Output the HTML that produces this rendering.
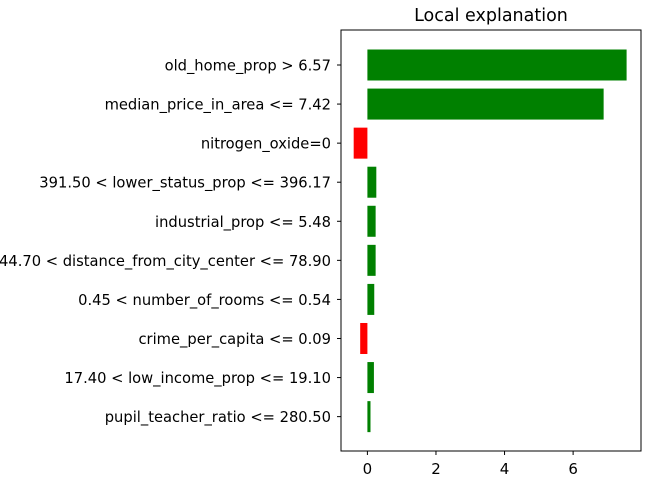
<!DOCTYPE html>
<html><head><meta charset="utf-8"><style>
body{margin:0;background:#fff;width:645px;height:482px;overflow:hidden}
svg text{font-family:"DejaVu Sans","Liberation Sans",sans-serif;fill:#000}
</style></head><body>
<svg id="chart" width="645" height="482" xmlns="http://www.w3.org/2000/svg"></svg>
<script>
const features = ["old_home_prop > 6.57","median_price_in_area <= 7.42","nitrogen_oxide=0","391.50 < lower_status_prop <= 396.17","industrial_prop <= 5.48","44.70 < distance_from_city_center <= 78.90","0.45 < number_of_rooms <= 0.54","crime_per_capita <= 0.09","17.40 < low_income_prop <= 19.10","pupil_teacher_ratio <= 280.50"];
const weights = [7.56,6.89,-0.4,0.26,0.24,0.24,0.2,-0.21,0.19,0.09];
const xTicks = [0,2,4,6];
const NS="http://www.w3.org/2000/svg";
const svg=document.getElementById('chart');
const L=341,R=641,T=30,B=451,xmin=-0.77,xmax=7.98;
const xs=v=>L+(v-xmin)/(xmax-xmin)*(R-L);
const rowY=i=>65+i*39.07;
function mk(t,a){const e=document.createElementNS(NS,t);for(const k in a)e.setAttribute(k,a[k]);svg.appendChild(e);return e;}
features.forEach((f,i)=>{
  const w=weights[i],x0=xs(Math.min(0,w)),x1=xs(Math.max(0,w));
  const r=mk('rect',{x:x0,y:rowY(i)-15.5,width:x1-x0,height:31,fill:w>=0?'#008000':'#ff0000'});
  
  
  mk('line',{x1:L-4,x2:L,y1:rowY(i),y2:rowY(i),stroke:'#000','stroke-width':1});
  const t=mk('text',{x:L-10,y:rowY(i)+5.5,'text-anchor':'end','font-size':14.7});
  t.textContent=f;
  
  
});
xTicks.forEach(v=>{
  mk('line',{x1:xs(v),x2:xs(v),y1:B,y2:B+4,stroke:'#000','stroke-width':1});
  const t=mk('text',{x:xs(v),y:B+23,'text-anchor':'middle','font-size':15});
  t.textContent=v;
  
  
});
const fr=mk('rect',{x:L,y:T,width:R-L,height:B-T,fill:'none',stroke:'#000','stroke-width':1});


const ti=mk('text',{x:(L+R)/2,y:21,'text-anchor':'middle','font-size':17.5});
ti.textContent='Local explanation';


</script>
</body></html>
